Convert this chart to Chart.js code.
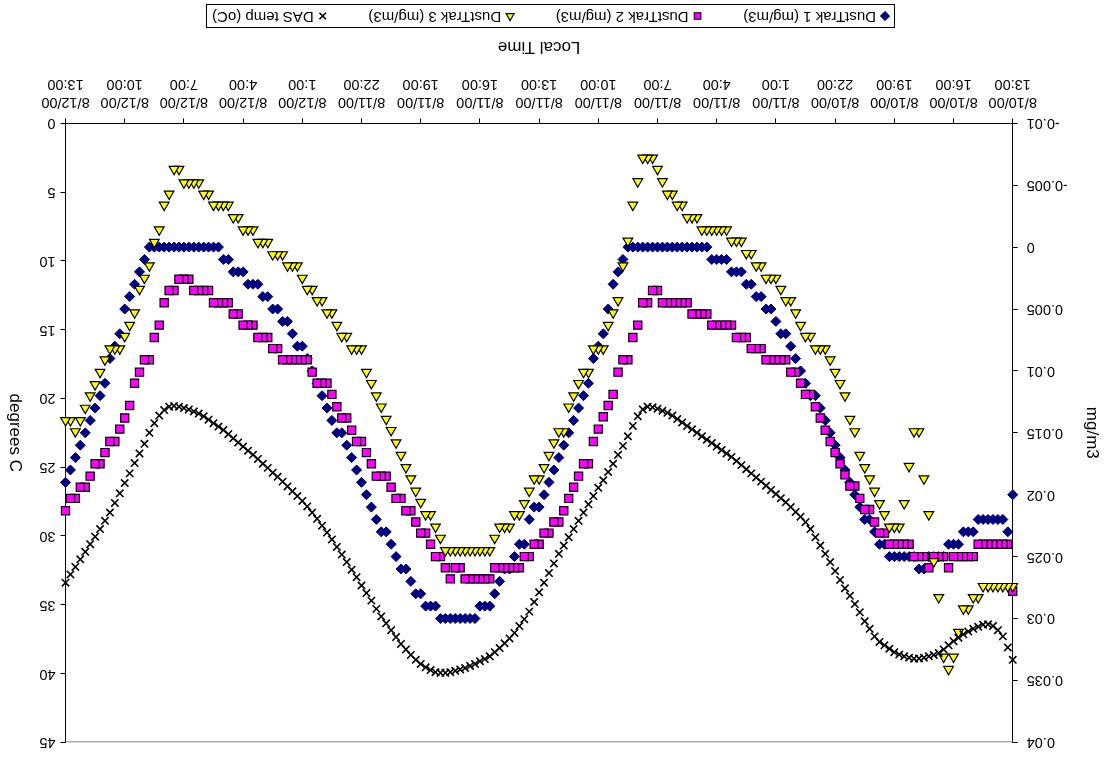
<!DOCTYPE html>
<html>
<head>
<meta charset="utf-8">
<script src="https://cdn.jsdelivr.net/npm/chart.js@4.4.0/dist/chart.umd.min.js"></script>
<style>
  html, body { margin: 0; padding: 0; background: #fff; }
  /* the reference picture is printed upside down */
  #wrap { width: 1110px; height: 760px; transform: rotate(180deg); }
</style>
</head>
<body>
<div id="wrap"><canvas id="chart" width="1110" height="760"></canvas></div>
<script>
// samples every 15 minutes, starting 8/10/00 13:00
const sampleMinutes = 15;

const tickLabels = [
  ['8/10/00', '13:00'], ['8/10/00', '16:00'], ['8/10/00', '19:00'], ['8/10/00', '22:00'],
  ['8/11/00', '1:00'], ['8/11/00', '4:00'], ['8/11/00', '7:00'], ['8/11/00', '10:00'],
  ['8/11/00', '13:00'], ['8/11/00', '16:00'], ['8/11/00', '19:00'], ['8/11/00', '22:00'],
  ['8/12/00', '1:00'], ['8/12/00', '4:00'], ['8/12/00', '7:00'], ['8/12/00', '10:00'],
  ['8/12/00', '13:00']
];

// mg/m3, one row = 3 hours
const dustTrak1 = [
  .020, .023, .022, .022, .022, .022, .022, .022, .023, .023, .023, .024,
  .024, .024, .025, .025, .025, .025, .026, .026, .025, .025, .025, .025,
  .025, .025, .024, .024, .023, .022, .022, .021, .020, .019, .018, .017,
  .016, .015, .014, .013, .012, .012, .011, .010, .009, .008, .007, .007,
  .006, .005, .005, .004, .004, .003, .003, .002, .002, .002, .001, .001,
  .001, .001, 0, 0, 0, 0, 0, 0, 0, 0, 0, 0,
  0, 0, 0, 0, 0, 0, 0, .001, .002, .003, .005, .007,
  .008, .009, .011, .012, .013, .014, .015, .016, .017, .018, .019, .020,
  .021, .021, .022, .024, .024, .025, .026, .026, .027, .028, .029, .029,
  .029, .030, .030, .030, .030, .030, .030, .030, .030, .029, .029, .029,
  .028, .028, .027, .026, .026, .025, .024, .023, .023, .022, .021, .020,
  .019, .018, .017, .016, .015, .015, .014, .013, .012, .011, .010, .009,
  .008, .008, .007, .006, .006, .005, .005, .004, .004, .003, .003, .003,
  .002, .002, .002, .001, .001, 0, 0, 0, 0, 0, 0, 0,
  0, 0, 0, 0, 0, 0, 0, 0, .001, .002, .003, .004,
  .005, .007, .008, .009, .011, .012, .013, .014, .015, .016, .017, .018,
  .019
];

const dustTrak2 = [
  .0278, .0240, .0240, .0240, .0240, .0240, .0240, .0240, .0250, .0250, .0250, .0250,
  .0250, .0259, .0250, .0250, .0250, .0259, .0250, .0250, .0250, .0240, .0240, .0240,
  .0240, .0240, .0231, .0231, .0222, .0212, .0212, .0203, .0193, .0193, .0184, .0175,
  .0166, .0157, .0148, .0138, .0129, .0119, .0119, .0110, .0101, .0101, .0091, .0091,
  .0091, .0091, .0091, .0082, .0082, .0082, .0073, .0073, .0073, .0063, .0063, .0063,
  .0063, .0063, .0054, .0054, .0054, .0054, .0045, .0045, .0045, .0045, .0045, .0045,
  .0035, .0035, .0045, .0045, .0063, .0073, .0091, .0091, .0101, .0119, .0128, .0137,
  .0147, .0157, .0175, .0175, .0185, .0194, .0203, .0213, .0222, .0222, .0231, .0231,
  .0240, .0240, .0250, .0250, .0259, .0259, .0259, .0259, .0259, .0259, .0268, .0268,
  .0268, .0268, .0268, .0268, .0259, .0259, .0268, .0259, .0250, .0250, .0240, .0231,
  .0231, .0222, .0213, .0213, .0203, .0203, .0194, .0185, .0185, .0185, .0175, .0166,
  .0157, .0157, .0148, .0138, .0138, .0129, .0119, .0110, .0110, .0110, .0101, .0091,
  .0091, .0091, .0091, .0091, .0091, .0082, .0082, .0073, .0073, .0073, .0063, .0063,
  .0063, .0054, .0054, .0045, .0045, .0045, .0045, .0035, .0035, .0035, .0035, .0026,
  .0026, .0026, .0035, .0035, .0045, .0063, .0073, .0091, .0091, .0101, .0110, .0128,
  .0138, .0147, .0157, .0157, .0166, .0175, .0175, .0185, .0194, .0194, .0203, .0203,
  .0213
];

const dustTrak3 = [
  .0274, .0274, .0274, .0274, .0274, .0274, .0274, .0283, .0283, .0292, .0292, .0311,
  .0331, .0341, .0331, .0283, .0254, .0216, .0187, .0149, .0149, .0177, .0207, .0226,
  .0226, .0226, .0216, .0207, .0197, .0187, .0178, .0168, .0149, .0139, .0120, .0110,
  .0101, .0091, .0082, .0082, .0082, .0072, .0072, .0063, .0053, .0043, .0043, .0034,
  .0025, .0025, .0025, .0015, .0015, .0005, .0005, -.0005, -.0005, -.0005, -.0014, -.0014,
  -.0014, -.0014, -.0014, -.0014, -.0024, -.0024, -.0024, -.0034, -.0034, -.0043, -.0043, -.0053,
  -.0063, -.0072, -.0072, -.0072, -.0053, -.0034, -.0005, .0015, .0043, .0053, .0063, .0082,
  .0082, .0082, .0101, .0101, .0110, .0120, .0129, .0149, .0149, .0158, .0168, .0178,
  .0187, .0187, .0197, .0207, .0216, .0216, .0226, .0226, .0226, .0235, .0245, .0245,
  .0245, .0245, .0245, .0245, .0245, .0245, .0245, .0245, .0235, .0226, .0216, .0216,
  .0206, .0197, .0187, .0178, .0168, .0158, .0148, .0139, .0129, .0120, .0110, .0101,
  .0082, .0082, .0082, .0072, .0072, .0063, .0053, .0053, .0043, .0043, .0034, .0034,
  .0025, .0015, .0015, .0015, .0006, .0006, .0006, -.0004, -.0004, -.0004, -.0014, -.0014,
  -.0014, -.0024, -.0024, -.0034, -.0034, -.0034, -.0034, -.0043, -.0043, -.0052, -.0052, -.0052,
  -.0052, -.0063, -.0063, -.0043, -.0034, -.0014, -.0004, .0015, .0025, .0034, .0053, .0063,
  .0072, .0082, .0082, .0082, .0091, .0101, .0111, .0120, .0130, .0140, .0149, .0140,
  .0140
];

// degrees C
const dasTemp = [
  39.0, 38.1, 37.3, 36.85, 36.55, 36.42, 36.45, 36.6, 36.75, 36.95, 37.15, 37.4,
  37.65, 37.95, 38.25, 38.5, 38.65, 38.75, 38.85, 38.9, 38.92, 38.85, 38.75, 38.62,
  38.45, 38.2, 37.95, 37.7, 37.3, 36.75, 36.2, 35.55, 34.95, 34.35, 33.8, 33.2,
  32.55, 31.9, 31.3, 30.7, 30.1, 29.5, 29.0, 28.6, 28.25, 27.9, 27.55, 27.25,
  26.95, 26.65, 26.35, 26.05, 25.75, 25.45, 25.15, 24.85, 24.55, 24.25, 24.0, 23.75,
  23.5, 23.25, 23.0, 22.75, 22.5, 22.25, 22.0, 21.75, 21.5, 21.25, 21.05, 20.9,
  20.75, 20.65, 20.6, 20.8, 21.3, 22.0, 22.75, 23.45, 24.1, 24.75, 25.35, 25.95,
  26.5, 27.1, 27.7, 28.3, 28.9, 29.5, 30.1, 30.7, 31.3, 32.0, 32.7, 33.4,
  34.1, 34.8, 35.5, 36.05, 36.55, 37.05, 37.45, 37.8, 38.15, 38.45, 38.75, 38.95,
  39.1, 39.3, 39.45, 39.6, 39.7, 39.8, 39.9, 39.95, 39.95, 39.9, 39.75, 39.55,
  39.3, 39.0, 38.65, 38.25, 37.85, 37.35, 36.85, 36.35, 35.85, 35.3, 34.7, 34.15,
  33.6, 33.0, 32.45, 31.9, 31.35, 30.8, 30.25, 29.75, 29.25, 28.75, 28.3, 27.85,
  27.45, 27.1, 26.75, 26.4, 26.05, 25.7, 25.4, 25.05, 24.75, 24.4, 24.1, 23.8,
  23.5, 23.2, 22.9, 22.6, 22.3, 22.05, 21.8, 21.55, 21.3, 21.1, 20.95, 20.8,
  20.7, 20.6, 20.55, 20.6, 20.85, 21.25, 21.8, 22.5, 23.3, 24.0, 24.7, 25.45,
  26.15, 26.9, 27.6, 28.3, 28.9, 29.5, 30.05, 30.6, 31.15, 31.7, 32.25, 32.8,
  33.4
];

const FONT = '"Liberation Sans", Arial, sans-serif';
Chart.defaults.font.family = FONT;
Chart.defaults.color = '#000';

// hours after the first sample
function toPoints(values) {
  return values.map((v, i) => ({ x: i * sampleMinutes / 60, y: v }));
}

const extras = {
  id: 'extras',
  afterDraw(chart) {
    const ctx = chart.ctx;
    const a = chart.chartArea;
    ctx.save();
    // grey plot-area border on top
    ctx.strokeStyle = '#808080';
    ctx.lineWidth = 1;
    ctx.beginPath();
    ctx.moveTo(a.left, a.top + 0.5);
    ctx.lineTo(a.right, a.top + 0.5);
    ctx.stroke();

    // secondary axis title, reading bottom to top like the primary one
    ctx.fillStyle = '#000';
    ctx.font = '17px ' + FONT;
    ctx.textAlign = 'center';
    ctx.textBaseline = 'middle';
    ctx.save();
    ctx.translate(1095, (a.top + a.bottom) / 2);
    ctx.rotate(-Math.PI / 2);
    ctx.fillText('degrees C', 0, 0);
    ctx.restore();

    // legend in a box under the axis
    const box = { left: 215, top: 732, right: 903, bottom: 755 };
    ctx.strokeStyle = '#000';
    ctx.lineWidth = 1;
    ctx.strokeRect(box.left + 0.5, box.top + 0.5, box.right - box.left, box.bottom - box.top);
    ctx.font = '15px ' + FONT;
    ctx.textAlign = 'left';
    const sets = chart.data.datasets;
    const markW = 10, markGap = 4, inner = 5;
    const widths = sets.map(d => markW + markGap + ctx.measureText(d.label).width);
    const sum = widths.reduce((s, w) => s + w, 0);
    const gap = (box.right - box.left - 2 * inner - sum) / (sets.length - 1);
    const cy = (box.top + box.bottom) / 2 + 0.5;
    let x = box.left + inner;
    sets.forEach((d, i) => {
      ctx.fillStyle = d.backgroundColor;
      ctx.strokeStyle = d.borderColor;
      ctx.lineWidth = d.borderWidth;
      Chart.helpers.drawPoint(ctx, { pointStyle: d.pointStyle, radius: Math.min(d.pointRadius, 4.6), rotation: 0, borderWidth: d.borderWidth }, x + markW / 2, cy);
      ctx.fillStyle = '#000';
      ctx.fillText(d.label, x + markW + markGap, cy);
      x += widths[i] + gap;
    });
    ctx.restore();
  }
};

const axisFont = { family: FONT, size: 14.5 };
const titleFont = { family: FONT, size: 17 };

new Chart(document.getElementById('chart'), {
  type: 'scatter',
  data: {
    datasets: [
      { label: 'DustTrak 1 (mg/m3)', data: toPoints(dustTrak1), yAxisID: 'y', order: 4,
        pointStyle: 'rectRot', pointRadius: 5, backgroundColor: '#000080', borderColor: '#000080', borderWidth: 1 },
      { label: 'DustTrak 2 (mg/m3)', data: toPoints(dustTrak2), yAxisID: 'y', order: 3,
        pointStyle: 'rect', pointRadius: 5.8, backgroundColor: '#ff00ff', borderColor: '#000', borderWidth: 1.2 },
      { label: 'DustTrak 3 (mg/m3)', data: toPoints(dustTrak3), yAxisID: 'y', order: 2,
        pointStyle: 'triangle', pointRadius: 5.6, backgroundColor: '#ffff00', borderColor: '#000', borderWidth: 1.2 },
      { label: 'DAS temp (oC)', data: toPoints(dasTemp), yAxisID: 'y2', order: 1,
        pointStyle: 'crossRot', pointRadius: 5.2, backgroundColor: '#000', borderColor: '#000', borderWidth: 1.6 }
    ]
  },
  options: {
    responsive: false,
    animation: false,
    devicePixelRatio: 1,
    clip: false,
    layout: { padding: { left: 0, right: 0, top: 14.3, bottom: 33.3 } },
    plugins: { legend: { display: false }, tooltip: { enabled: false } },
    scales: {
      x: {
        type: 'linear',
        position: 'bottom',
        min: 0,
        max: 48,
        afterFit: s => { s.height = 90; },
        ticks: {
          stepSize: 3, autoSkip: false, maxRotation: 0, padding: 8,
          font: axisFont,
          callback: v => tickLabels[Math.round(v / 3)]
        },
        grid: { drawOnChartArea: false, tickLength: 5, color: '#000' },
        border: { color: '#000' },
        title: { display: true, text: 'Local Time', font: titleFont, padding: { top: 0, bottom: 3 } }
      },
      y: {
        position: 'left',
        min: -0.01,
        max: 0.04,
        afterFit: s => { s.width = 97.3; },
        ticks: {
          stepSize: 0.005, padding: 9, font: axisFont,
          callback: v => String(parseFloat(v.toFixed(3)))
        },
        grid: { drawOnChartArea: false, tickLength: 5, color: '#000' },
        border: { color: '#000' },
        title: { display: true, text: 'mg/m3', font: titleFont, padding: { top: 8, bottom: 0 } }
      },
      y2: {
        position: 'right',
        min: 0,
        max: 45,
        afterFit: s => { s.width = 65.5; },
        ticks: { stepSize: 5, padding: 5, font: axisFont },
        grid: { drawOnChartArea: false, tickLength: 5, color: '#000' },
        border: { color: '#000' }
      }
    }
  },
  plugins: [extras]
});
</script>
</body>
</html>
